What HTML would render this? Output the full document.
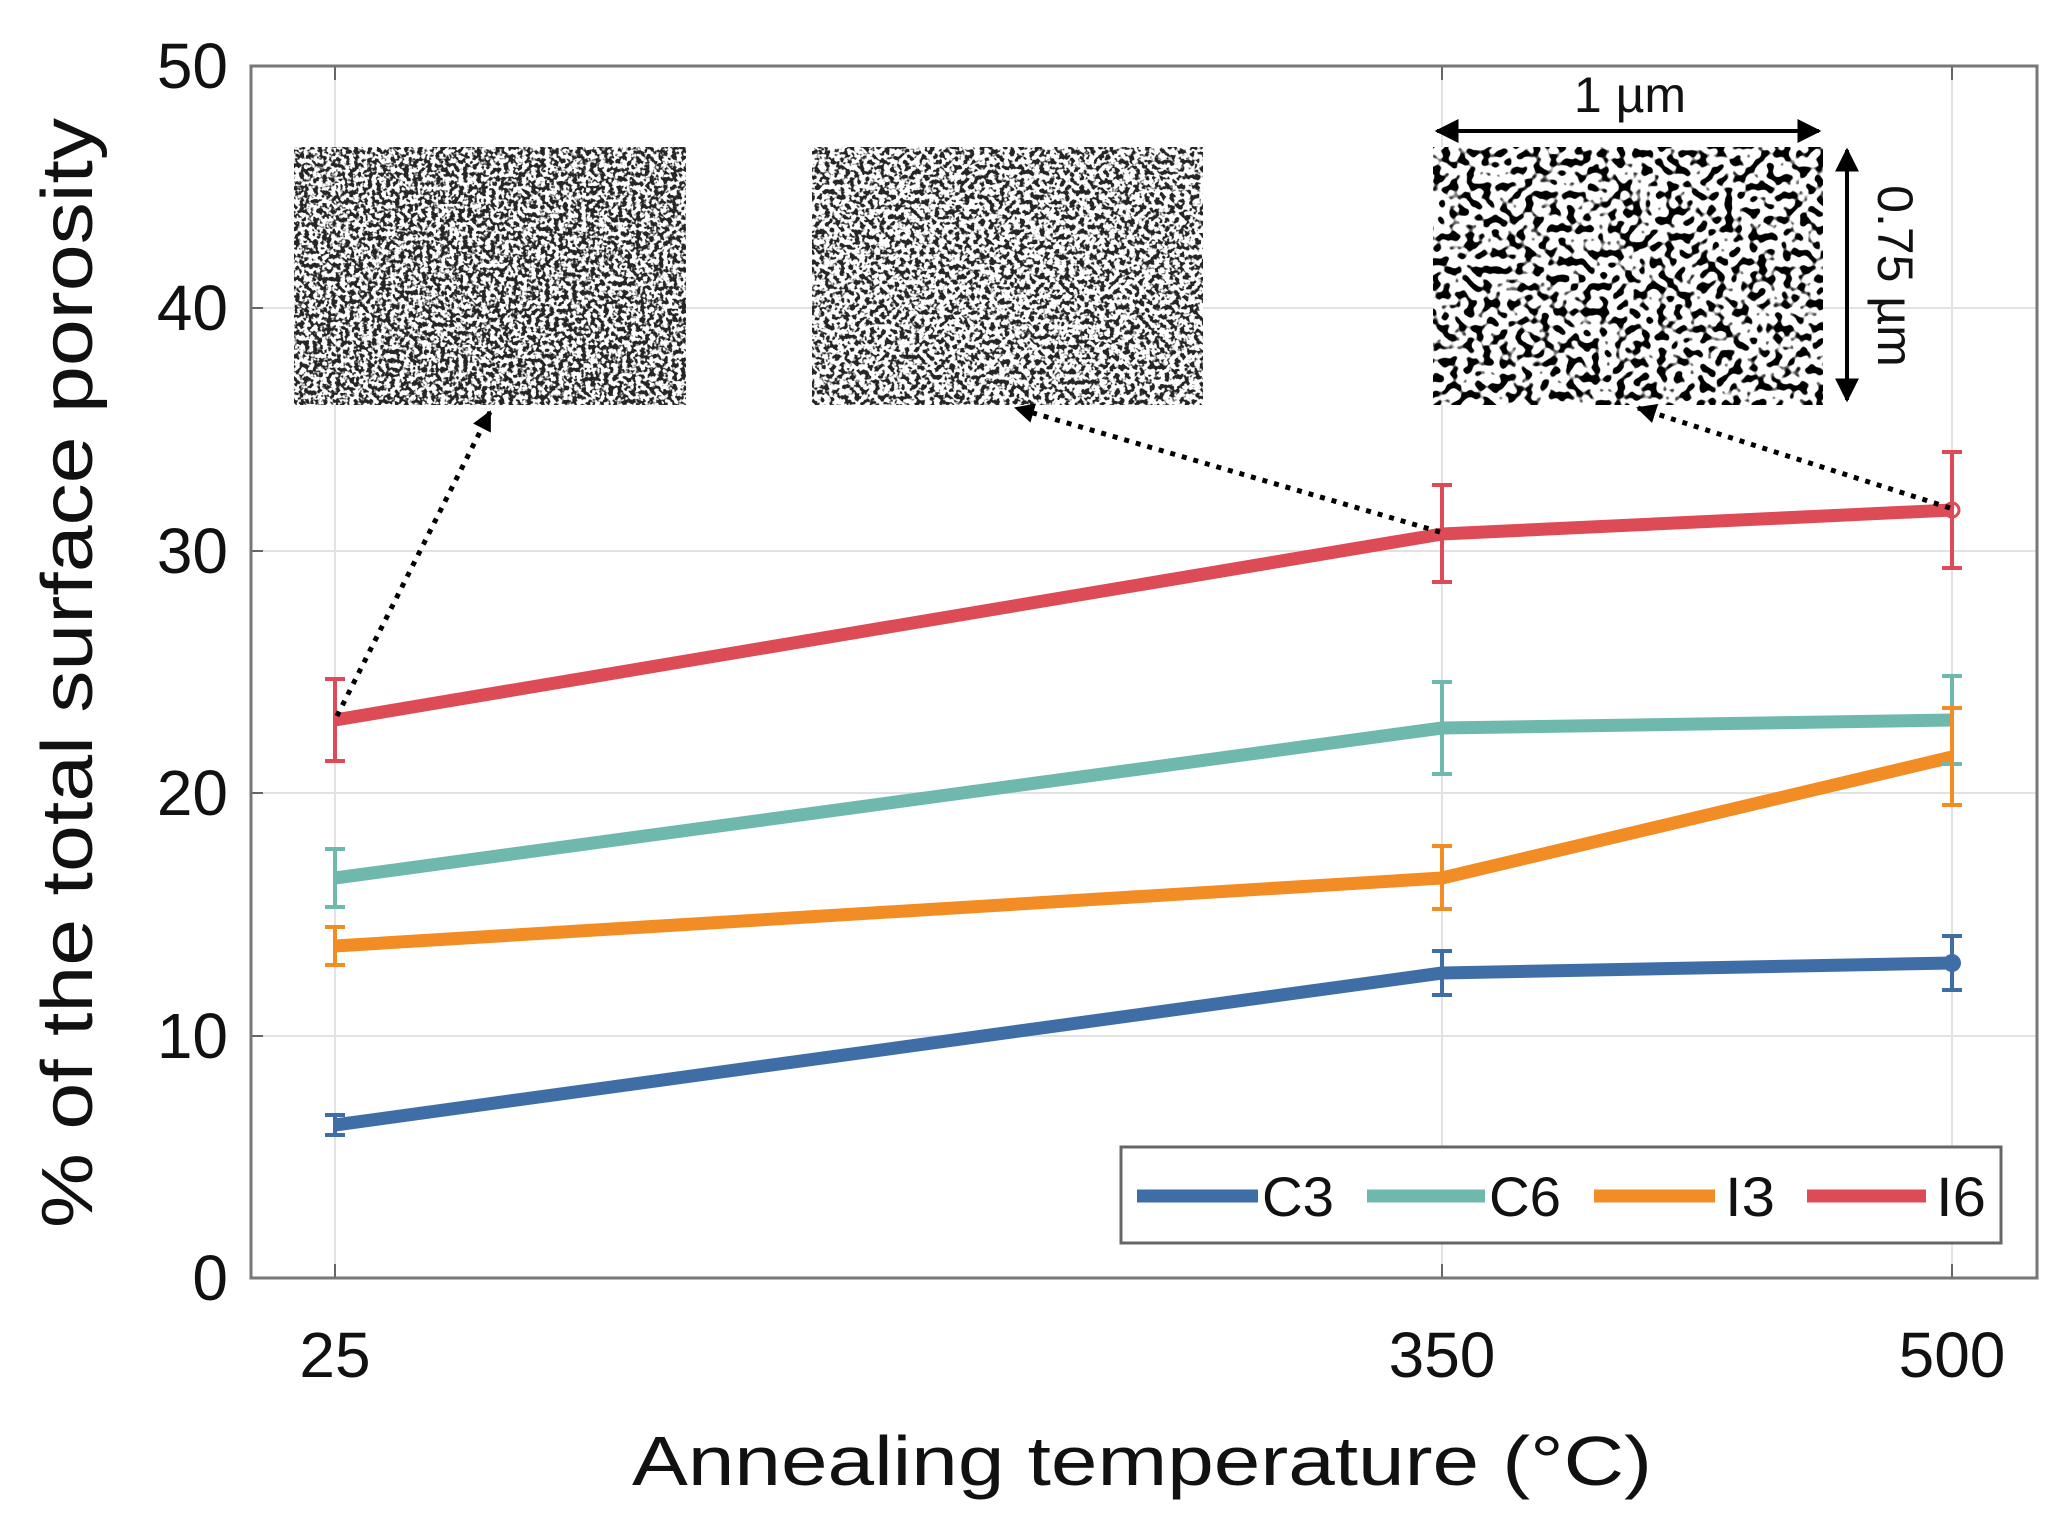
<!DOCTYPE html>
<html><head><meta charset="utf-8"><style>
html,body{margin:0;padding:0;background:#fff;}
svg{display:block;}
text{font-family:"Liberation Sans",sans-serif;fill:#111;}
</style></head><body>
<svg width="2061" height="1540" viewBox="0 0 2061 1540" xmlns="http://www.w3.org/2000/svg">
<defs>
<filter id="n1" x="0" y="0" width="100%" height="100%">
<feTurbulence type="fractalNoise" baseFrequency="0.22" numOctaves="2" seed="3"/>
<feColorMatrix type="matrix" values="0 0 0 0 0  0 0 0 0 0  0 0 0 0 0  -9 0 0 0 4.9"/>
</filter>
<filter id="n2" x="0" y="0" width="100%" height="100%">
<feTurbulence type="fractalNoise" baseFrequency="0.2" numOctaves="2" seed="7"/>
<feColorMatrix type="matrix" values="0 0 0 0 0  0 0 0 0 0  0 0 0 0 0  -10 0 0 0 5.2"/>
</filter>
<filter id="n3" x="0" y="0" width="100%" height="100%">
<feTurbulence type="fractalNoise" baseFrequency="0.12" numOctaves="1" seed="11"/>
<feColorMatrix type="matrix" values="0 0 0 0 0  0 0 0 0 0  0 0 0 0 0  -14 0 0 0 6.9"/>
</filter>
<marker id="ah" viewBox="0 0 10 10" refX="9" refY="5" markerWidth="6" markerHeight="6" orient="auto-start-reverse"><path d="M0,0 L10,5 L0,10 z" fill="#000"/></marker>
<marker id="ah2" viewBox="0 0 10 10" refX="9" refY="5" markerWidth="4" markerHeight="4" orient="auto-start-reverse"><path d="M0,0 L10,5 L0,10 z" fill="#000"/></marker>
</defs>
<!-- grid -->
<g stroke="#e2e2e2" stroke-width="2">
<line x1="251" y1="308" x2="2037" y2="308"/>
<line x1="251" y1="551" x2="2037" y2="551"/>
<line x1="251" y1="793" x2="2037" y2="793"/>
<line x1="251" y1="1036" x2="2037" y2="1036"/>
<line x1="335" y1="66" x2="335" y2="1278"/>
<line x1="1442" y1="66" x2="1442" y2="1278"/>
<line x1="1952" y1="66" x2="1952" y2="1278"/>
</g>
<g stroke="#666" stroke-width="2">
<path d="M251,308h12M251,551h12M251,793h12M251,1036h12M335,1278v-14M1442,1278v-14M1952,1278v-14M335,66v14M1442,66v14M1952,66v14"/>
</g>
<rect x="251" y="66" width="1786" height="1212" fill="none" stroke="#777" stroke-width="3"/>
<!-- y labels -->
<g font-size="64" text-anchor="end">
<text x="228" y="88">50</text>
<text x="228" y="330">40</text>
<text x="228" y="573">30</text>
<text x="228" y="815">20</text>
<text x="228" y="1058">10</text>
<text x="228" y="1300">0</text>
</g>
<g font-size="64" text-anchor="middle">
<text x="335" y="1377">25</text>
<text x="1442" y="1377">350</text>
<text x="1952" y="1377">500</text>
</g>
<text x="1142" y="1485" font-size="70" text-anchor="middle" textLength="1020" lengthAdjust="spacingAndGlyphs">Annealing temperature (°C)</text>
<text transform="translate(92,673) rotate(-90)" font-size="72" text-anchor="middle" textLength="1110" lengthAdjust="spacingAndGlyphs">% of the total surface porosity</text>
<!-- insets -->
<rect x="294" y="147" width="392" height="258" fill="#fff"/>
<rect x="294" y="147" width="392" height="258" filter="url(#n1)" opacity="0.85"/>
<rect x="812" y="147" width="391" height="258" fill="#fff"/>
<rect x="812" y="147" width="391" height="258" filter="url(#n2)" opacity="0.85"/>
<rect x="1433" y="147" width="390" height="258" fill="#fff"/>
<rect x="1433" y="147" width="390" height="258" filter="url(#n3)"/>
<line x1="1437" y1="131" x2="1819" y2="131" stroke="#000" stroke-width="4" marker-start="url(#ah)" marker-end="url(#ah)"/>
<text x="1630" y="112" font-size="50" text-anchor="middle">1 µm</text>
<line x1="1847" y1="150" x2="1847" y2="400" stroke="#000" stroke-width="4" marker-start="url(#ah)" marker-end="url(#ah)"/>
<text transform="translate(1878,276) rotate(90)" font-size="50" text-anchor="middle">0.75 µm</text>
<!-- series -->
<g fill="none" stroke-linejoin="round" stroke-width="13">
<polyline stroke="#3f6ea6" points="335,1125 1442,973 1952,963"/>
<polyline stroke="#6fb8ad" points="335,878 1442,728 1952,720"/>
<polyline stroke="#f28c25" points="335,946 1442,878 1952,757"/>
<polyline stroke="#dd4b57" points="335,720 1442,534 1952,510"/>
</g>
<g stroke-width="4">
<g stroke="#3f6ea6"><path d="M335,1115v20M325,1115h20M325,1135h20 M1442,951v44M1432,951h20M1432,995h20 M1952,936v54M1942,936h20M1942,990h20"/></g>
<g stroke="#6fb8ad"><path d="M335,849v58M325,849h20M325,907h20 M1442,682v92M1432,682h20M1432,774h20 M1952,676v88M1942,676h20M1942,764h20"/></g>
<g stroke="#f28c25"><path d="M335,927v38M325,927h20M325,965h20 M1442,846v63M1432,846h20M1432,909h20 M1952,708v97M1942,708h20M1942,805h20"/></g>
<g stroke="#dd4b57"><path d="M335,679v82M325,679h20M325,761h20 M1442,485v97M1432,485h20M1432,582h20 M1952,452v116M1942,452h20M1942,568h20"/></g>
</g>
<circle cx="1952" cy="963" r="9" fill="#3f6ea6"/>
<circle cx="1952" cy="510" r="7" fill="none" stroke="#dd4b57" stroke-width="3"/>
<!-- dotted arrows -->
<g stroke="#000" stroke-width="5" stroke-dasharray="5 7" fill="none">
<line x1="337" y1="716" x2="490" y2="412" marker-end="url(#ah2)"/>
<line x1="1440" y1="532" x2="1016" y2="408" marker-end="url(#ah2)"/>
<line x1="1950" y1="508" x2="1638" y2="408" marker-end="url(#ah2)"/>
</g>
<!-- legend -->
<rect x="1121" y="1147" width="880" height="96" fill="#fff" stroke="#666" stroke-width="3"/>
<g stroke-width="13">
<line x1="1137" y1="1196" x2="1258" y2="1196" stroke="#3f6ea6"/>
<line x1="1367" y1="1196" x2="1485" y2="1196" stroke="#6fb8ad"/>
<line x1="1594" y1="1196" x2="1715" y2="1196" stroke="#f28c25"/>
<line x1="1807" y1="1196" x2="1926" y2="1196" stroke="#dd4b57"/>
</g>
<g font-size="56">
<text x="1262" y="1216" textLength="72" lengthAdjust="spacingAndGlyphs">C3</text>
<text x="1489" y="1216" textLength="72" lengthAdjust="spacingAndGlyphs">C6</text>
<text x="1725" y="1216" textLength="50" lengthAdjust="spacingAndGlyphs">I3</text>
<text x="1936" y="1216" textLength="50" lengthAdjust="spacingAndGlyphs">I6</text>
</g>
</svg>
</body></html>
